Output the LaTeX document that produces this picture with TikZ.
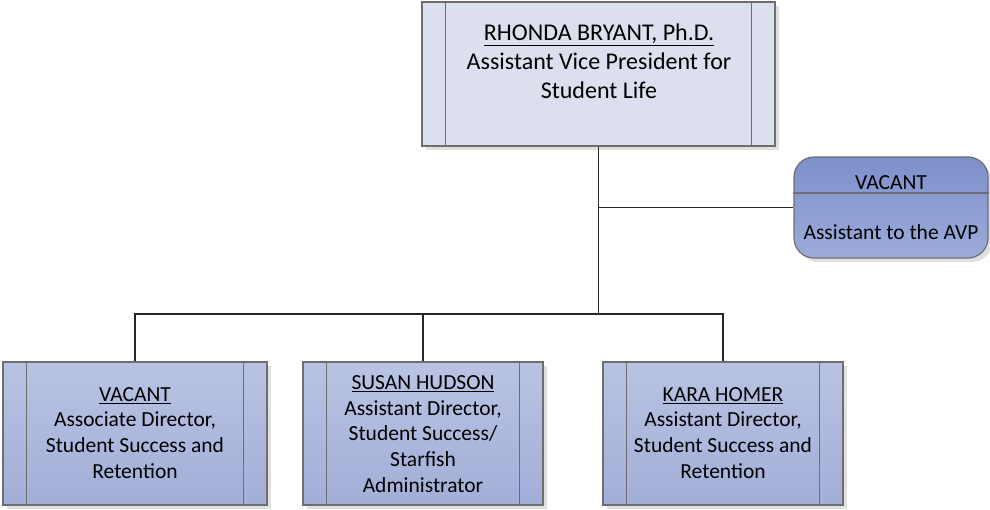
\documentclass[tikz,border=0pt]{standalone}
\usepackage{fontspec}
\setmainfont{Carlito}
\usetikzlibrary{calc,shadows}
\definecolor{topfill}{HTML}{DCE0EE}
\definecolor{boxtop}{HTML}{B9C3E3}
\definecolor{boxbot}{HTML}{A3AED8}
\definecolor{asstop}{HTML}{7D90CB}
\definecolor{assbot}{HTML}{9DABDA}
\definecolor{edge}{HTML}{6E6E6E}
\begin{document}
\begin{tikzpicture}[x=1pt,y=-1pt,
  boxshadow/.style={drop shadow={shadow xshift=4pt,shadow yshift=-4pt,fill=black!12,opacity=1}},
  topbox/.style={draw=edge,line width=1.2pt,fill=topfill,minimum width=353pt,minimum height=144pt,inner sep=0pt,boxshadow},
  staffbox/.style={draw=edge,line width=1.2pt,top color=boxtop,bottom color=boxbot,minimum height=143pt,inner sep=0pt,boxshadow},
  asstbox/.style={draw=edge,line width=1.2pt,top color=asstop,bottom color=assbot,rounded corners=20pt,minimum width=194pt,minimum height=101pt,inner sep=0pt,boxshadow},
  inner/.style={draw=edge,line width=1.2pt},
  conn/.style={draw=black!85,line width=1.3pt},
  bigtxt/.style={align=center,font=\fontsize{24}{29}\selectfont},
  smalltxt/.style={align=center,font=\fontsize{21.5}{25.8}\selectfont}]
\useasboundingbox (0,0) rectangle (990,510);
% boxes
\node[topbox] (avp) at (598.5,74) {};
\node[staffbox,minimum width=264pt] (s1) at (135,433.5) {};
\node[staffbox,minimum width=240pt] (s2) at (423,433.5) {};
\node[staffbox,minimum width=240pt] (s3) at (723,433.5) {};
\node[asstbox] (asst) at (891,207.5) {};
% inner lines
\foreach \n in {avp,s1,s2,s3}{
  \draw[inner] ($(\n.north west)+(24,0)$) -- ($(\n.south west)+(24,0)$);
  \draw[inner] ($(\n.north east)+(-24,0)$) -- ($(\n.south east)+(-24,0)$);
}
\draw[inner] ($(asst.west)+(0,-14.5)$) coordinate (hl) -- (hl -| asst.east);
% connectors
\coordinate (bus) at (598.5,314);
\draw[conn] (avp.south) -- (bus);
\draw[conn] (avp.south |- asst.west) -- (asst.west);
\draw[conn] (s1.north) |- (bus) -| (s3.north);
\draw[conn] (s2.north) -- (s2.north |- bus);
% texts
\node[bigtxt] (avpt) at (599,61) {\underline{RHONDA BRYANT, Ph.D.}\\Assistant Vice President for\\Student Life};
\node[smalltxt] (asstt1) at (891,183) {VACANT};
\node[smalltxt] (asstt2) at (891,232) {Assistant to the AVP};
\node[smalltxt] (s1t) at (135,433) {\underline{VACANT}\\Associate Director,\\Student Success and\\Retention};
\node[smalltxt] (s2t) at (423,434) {\underline{SUSAN HUDSON}\\Assistant Director,\\Student Success/\\Starfish\\Administrator};
\node[smalltxt] (s3t) at (723,433) {\underline{KARA HOMER}\\Assistant Director,\\Student Success and\\Retention};
\end{tikzpicture}
\end{document}
